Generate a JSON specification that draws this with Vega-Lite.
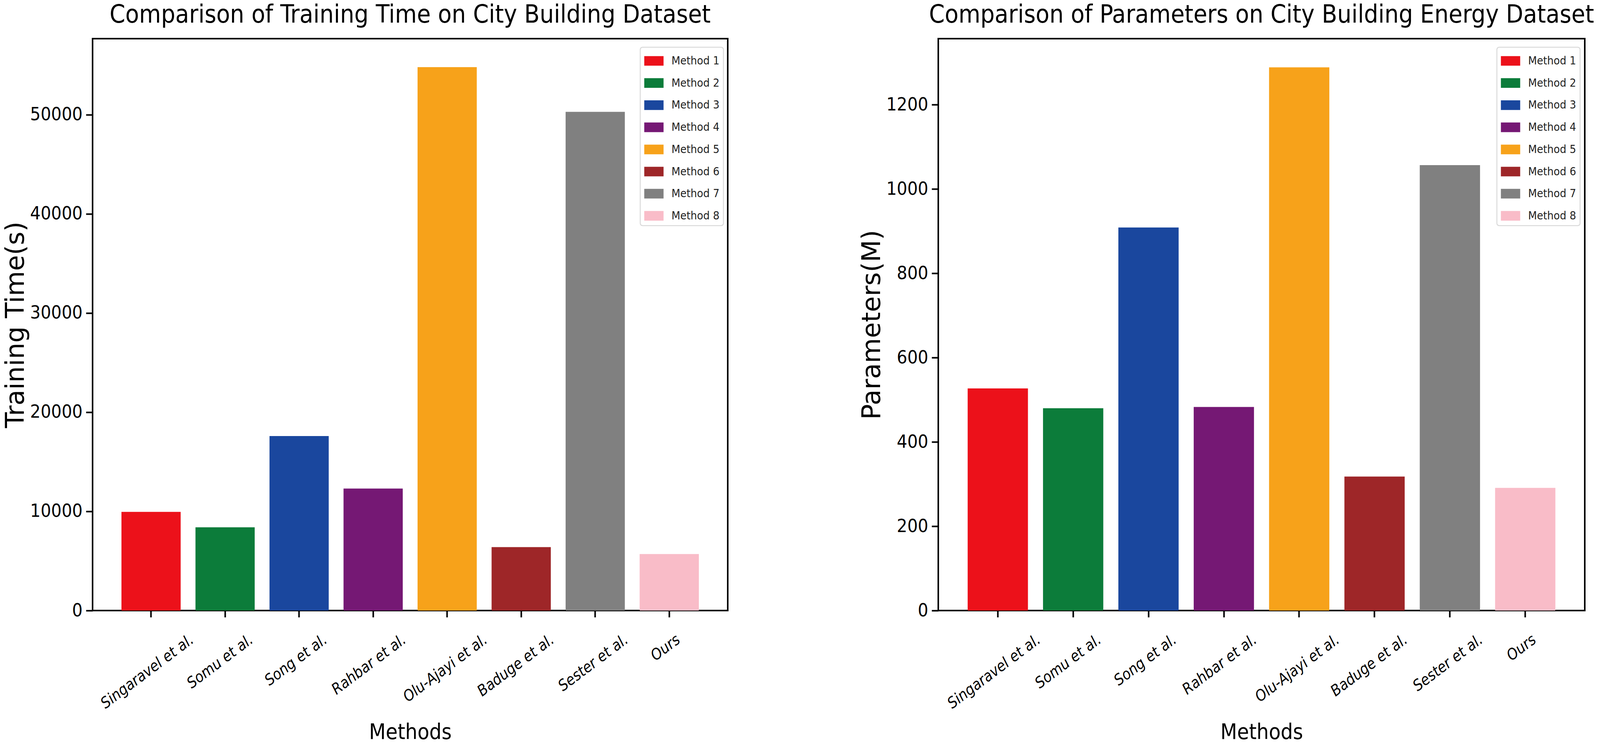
{
  "$schema": "https://vega.github.io/schema/vega-lite/v6.json",
  "padding": {"left": 5, "top": 5, "right": 0, "bottom": 0},
  "background": "white",
  "datasets": {
    "training": [
      {"author": "Singaravel et al.", "method": "Method 1", "value": 9950},
      {"author": "Somu et al.", "method": "Method 2", "value": 8400},
      {"author": "Song et al.", "method": "Method 3", "value": 17600},
      {"author": "Rahbar et al.", "method": "Method 4", "value": 12300},
      {"author": "Olu-Ajayi et al.", "method": "Method 5", "value": 54800},
      {"author": "Baduge et al.", "method": "Method 6", "value": 6400},
      {"author": "Sester et al.", "method": "Method 7", "value": 50300},
      {"author": "Ours", "method": "Method 8", "value": 5700}
    ],
    "params": [
      {"author": "Singaravel et al.", "method": "Method 1", "value": 527},
      {"author": "Somu et al.", "method": "Method 2", "value": 480},
      {"author": "Song et al.", "method": "Method 3", "value": 909},
      {"author": "Rahbar et al.", "method": "Method 4", "value": 483},
      {"author": "Olu-Ajayi et al.", "method": "Method 5", "value": 1289},
      {"author": "Baduge et al.", "method": "Method 6", "value": 318},
      {"author": "Sester et al.", "method": "Method 7", "value": 1057},
      {"author": "Ours", "method": "Method 8", "value": 291}
    ]
  },
  "config": {
    "font": "DejaVu Sans Condensed, Liberation Sans, sans-serif",
    "view": {"stroke": "black", "strokeWidth": 4},
    "title": {
      "font": "DejaVu Sans Condensed, Liberation Sans, sans-serif",
      "fontSize": 64,
      "fontWeight": "normal",
      "color": "black",
      "offset": 28,
      "anchor": "middle",
      "limit": 0
    },
    "axis": {
      "domain": false,
      "grid": false,
      "labelFont": "DejaVu Sans Condensed, Liberation Sans, sans-serif",
      "labelFontSize": 47,
      "labelColor": "black",
      "labelPadding": 9,
      "labelLimit": 1000,
      "tickColor": "black",
      "tickWidth": 4,
      "tickSize": 17,
      "titleFontWeight": "normal",
      "titleColor": "black"
    },
    "axisY": {
      "titleFont": "DejaVu Sans",
      "titleFontSize": 66,
      "titlePadding": 2
    },
    "axisX": {
      "titleFont": "DejaVu Sans Condensed, Liberation Sans, sans-serif",
      "titleFontSize": 55,
      "titleBaseline": "top",
      "titleY": 285,
      "labelFontSize": 39,
      "labelFontStyle": "italic",
      "labelAngle": -37,
      "labelAlign": "right",
      "labelBaseline": "top",
      "labelPadding": 38,
      "labelOffset": {"signal": "length(datum.label) * 6.24 - 13"}
    },
    "legend": {
      "orient": "none",
      "legendY": 22,
      "padding": 10,
      "rowPadding": 16.7,
      "symbolType": "M-1,-0.5H1V0.5H-1Z",
      "symbolSize": 2440,
      "symbolStrokeWidth": 0,
      "labelFont": "DejaVu Sans Condensed, Liberation Sans, sans-serif",
      "labelFontSize": 29,
      "labelColor": "#222222",
      "labelOffset": 20,
      "labelLimit": 1000,
      "strokeColor": "#dadada",
      "strokeWidth": 2.5,
      "cornerRadius": 6,
      "fillColor": "white"
    }
  },
  "spacing": 332,
  "resolve": {"scale": {"color": "independent"}, "legend": {"color": "independent"}},
  "hconcat": [
    {
      "width": 1626,
      "height": 1465,
      "title": "Comparison of Training Time on City Building Dataset",
      "data": {"name": "training"},
      "mark": {"type": "bar"},
      "encoding": {
        "x": {
          "field": "author",
          "type": "nominal",
          "sort": null,
          "title": "Methods",
          "scale": {"paddingInner": 0.2, "paddingOuter": 0.39}
        },
        "y": {
          "field": "value",
          "type": "quantitative",
          "title": "Training Time(s)",
          "scale": {"domain": [0, 57677], "nice": false},
          "axis": {"values": [0, 10000, 20000, 30000, 40000, 50000], "format": "d"}
        },
        "color": {
          "field": "method",
          "type": "nominal",
          "title": null,
          "scale": {
            "domain": ["Method 1", "Method 2", "Method 3", "Method 4", "Method 5", "Method 6", "Method 7", "Method 8"],
            "range": ["#ec111a", "#0c7c3a", "#1a479e", "#751874", "#f7a21a", "#9e2628", "#808080", "#f9bcc8"]
          },
          "legend": {"legendX": 1402}
        }
      }
    },
    {
      "width": 1655,
      "height": 1465,
      "title": "Comparison of Parameters on City Building Energy Dataset",
      "data": {"name": "params"},
      "mark": {"type": "bar"},
      "encoding": {
        "x": {
          "field": "author",
          "type": "nominal",
          "sort": null,
          "title": "Methods",
          "scale": {"paddingInner": 0.2, "paddingOuter": 0.39}
        },
        "y": {
          "field": "value",
          "type": "quantitative",
          "title": "Parameters(M)",
          "scale": {"domain": [0, 1357], "nice": false},
          "axis": {"values": [0, 200, 400, 600, 800, 1000, 1200], "format": "d"}
        },
        "color": {
          "field": "method",
          "type": "nominal",
          "title": null,
          "scale": {
            "domain": ["Method 1", "Method 2", "Method 3", "Method 4", "Method 5", "Method 6", "Method 7", "Method 8"],
            "range": ["#ec111a", "#0c7c3a", "#1a479e", "#751874", "#f7a21a", "#9e2628", "#808080", "#f9bcc8"]
          },
          "legend": {"legendX": 1430}
        }
      }
    }
  ]
}
